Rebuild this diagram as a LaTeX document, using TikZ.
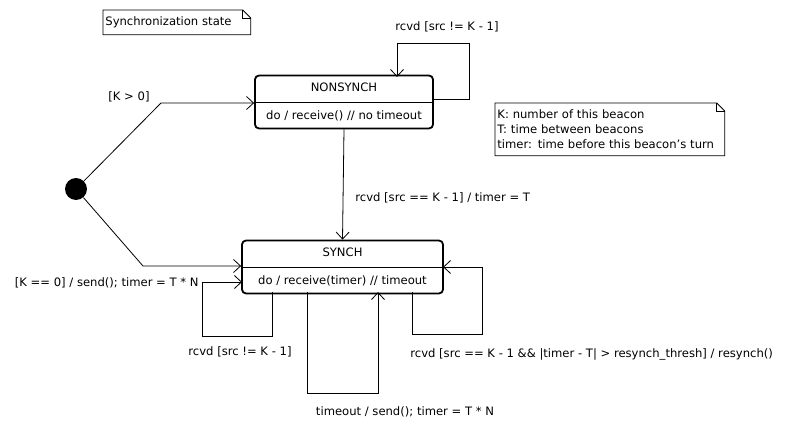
\documentclass[tikz,border=0pt]{standalone}
\usepackage{fontspec}
\setmainfont{DejaVu Sans}
\usepackage{tikz}
\usetikzlibrary{arrows.meta,shapes.multipart}

\begin{document}
\begin{tikzpicture}[x=1pt,y=-1pt,line width=0.8pt,font=\fontsize{11.6}{15}\selectfont,
  >={Straight Barb[length=7pt,width=13pt]},
  state/.style={rectangle split,rectangle split parts=2,rectangle split draw splits=false,
    draw,rounded corners=4pt,line width=1.8pt,text height=8.5pt,text depth=2.5pt,inner ysep=7pt},
  note/.style={anchor=north west,align=left,inner xsep=2pt,inner ysep=0pt},
  lbl/.style={inner sep=0pt}]
\useasboundingbox (0,0) rectangle (787,428);

\node[note] (title) [text width=143pt,minimum height=24pt] at (103,10) {Synchronization state};
\node[note] (legend) [text width=225pt,minimum height=52pt] at (495,103)
  {K: number of this beacon\\T: time between beacons\\timer: time before this beacon{\char"0027}s turn};
\foreach \n in {title,legend}
{
  \draw (\n.north west) -- ([xshift=-8pt]\n.north east) -- ([yshift=-8pt]\n.north east)
    -- (\n.south east) -- (\n.south west) -- cycle;
  \draw ([xshift=-8pt]\n.north east) |- ([yshift=-8pt]\n.north east);
}

\node[circle,fill=black,minimum size=22pt,inner sep=0pt] (init) at (76,189) {};
\node[state] (nonsynch) [minimum width=178pt] at (344,102) {NONSYNCH\nodepart{two}do / receive() // no timeout};
\node[state] (synch) [minimum width=201pt] at (342.5,267) {SYNCH\nodepart{two}do / receive(timer) // timeout};
\draw[line width=0.8pt] (nonsynch.text split west) -- (nonsynch.text split east);
\draw[line width=0.8pt] (synch.text split west) -- (synch.text split east);

\coordinate (k1) at (161,103);
\coordinate (k2) at (143,266);
\draw[->] (init) -- (k1) -- (k1 -| nonsynch.west);
\draw[->] (init) -- (k2) -- (k2 -| synch.west);
\node[lbl] (gt) at (129,97) {[K > 0]};
\node[lbl] (eq) [anchor=east] at (199,283) {[K == 0] / send(); timer = T * N};

\draw[->] (433,99) -- (469,99) -- (469,43) -- (397,43) -- (397,77);
\node[lbl] (ne1) at (447,27) {rcvd [src != K - 1]};

\draw[->] (nonsynch.south) -- (synch.north);
\node[lbl] (ok) [anchor=west] at (355,198) {rcvd [src == K - 1] / timer = T};

\draw[->] (272,292) -- (272,336) -- (202,336) -- (202,282) -- (242,282);
\node[lbl] (ne2) at (240,352) {rcvd [src != K - 1]};

\draw[->] (307,292) -- (307,393) -- (378,393) -- (378,292);
\node[lbl] (to) at (405,412) {timeout / send(); timer = T * N};

\draw[->] (412,292) -- (412,334) -- (482,334) -- (482,267) -- (443,267);
\node[lbl] (rs) [anchor=west] at (410,354) {rcvd [src == K - 1 \&\& |timer - T| > resynch\_thresh] / resynch()};
\end{tikzpicture}
\end{document}
